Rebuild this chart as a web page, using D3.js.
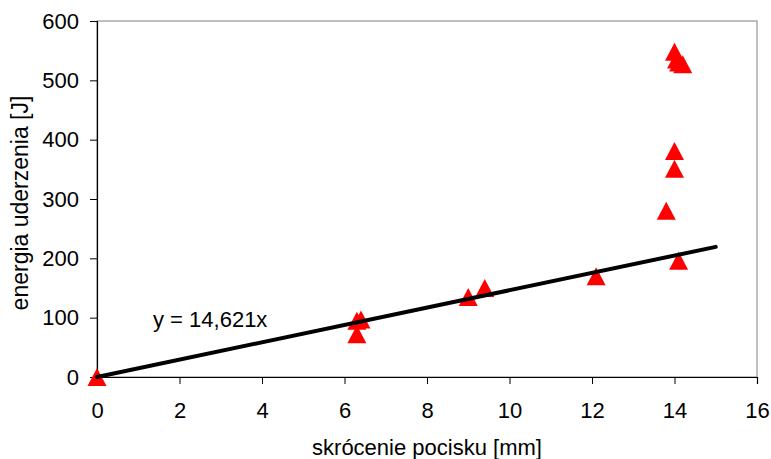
<!DOCTYPE html>
<html><head><meta charset="utf-8">
<script src="https://cdn.jsdelivr.net/npm/d3@7"></script>
<style>body{margin:0;background:#fff}svg{display:block}text{font-family:"Liberation Sans",Arial,sans-serif;fill:#000}</style>
</head><body><svg id="c" width="771" height="459"></svg>
<script>
const xValues = [0, 6.3, 6.4, 6.3, 9.0, 9.4, 12.1, 14.1, 13.8, 14.0, 14.0, 14.0, 14.05, 14.1, 14.2];
const yValues = [0, 95, 97, 72, 135, 150, 170, 196, 280, 351, 381, 548, 535, 530, 527];
const xTicks = [0, 2, 4, 6, 8, 10, 12, 14, 16];
const yTicks = [0, 100, 200, 300, 400, 500, 600];
const slope = 14.621;
const trendX = [0, 15];
const eqLabel = "y = 14,621x";
const xTitle = "skrócenie pocisku [mm]";
const yTitle = "energia uderzenia [J]";

const svg = d3.select("#c");
const L = 97, R = 757, T = 21, B = 377;
const x = d3.scaleLinear().domain([0, 16]).range([L, R]);
const y = d3.scaleLinear().domain([0, 600]).range([B, T]);

svg.append("rect").attr("x", L).attr("y", T).attr("width", R - L).attr("height", B - T)
  .attr("fill", "none").attr("stroke", "#808080").attr("stroke-width", 1);

const xa = svg.append("g").attr("transform", `translate(0,${B})`)
  .call(d3.axisBottom(x).tickValues(xTicks).tickSize(7).tickPadding(18).tickFormat(d3.format("d")));
const ya = svg.append("g").attr("transform", `translate(${L},0)`)
  .call(d3.axisLeft(y).tickValues(yTicks).tickSize(7).tickPadding(11).tickFormat(d3.format("d")));
[xa, ya].forEach(a => {
  a.select(".domain").attr("stroke", "#000").attr("stroke-width", 1.2);
  a.selectAll(".tick line").attr("stroke", "#000");
  a.selectAll("text").style("font-size", "22px").style("font-family", "Liberation Sans, Arial, sans-serif");
});

// triangle marker ~19 wide, 18 tall, centred on its box
const triType = { draw(ctx, size) { const w = 9.5, h = 9; ctx.moveTo(0, -h); ctx.lineTo(w, h); ctx.lineTo(-w, h); ctx.closePath(); } };
const tri = d3.symbol().type(triType);
svg.append("g").selectAll("path").data(xValues.map((v, i) => [v, yValues[i]])).join("path")
  .attr("d", tri).attr("fill", "#ff0000")
  .attr("transform", d => `translate(${x(d[0])},${y(d[1])})`);

svg.append("line").attr("x1", x(trendX[0])).attr("y1", y(slope * trendX[0]))
  .attr("x2", x(trendX[1])).attr("y2", y(slope * trendX[1]))
  .attr("stroke", "#000").attr("stroke-width", 4).attr("stroke-linecap", "round");

svg.append("text").attr("x", 153).attr("y", 327).style("font-size", "22px").text(eqLabel);

svg.append("text").attr("x", (L + R) / 2).attr("y", 455).attr("text-anchor", "middle")
  .style("font-size", "22px").text(xTitle);
svg.append("text").attr("transform", `translate(28,203) rotate(-90)`)
  .attr("text-anchor", "middle").style("font-size", "23px").text(yTitle);
</script></body></html>
